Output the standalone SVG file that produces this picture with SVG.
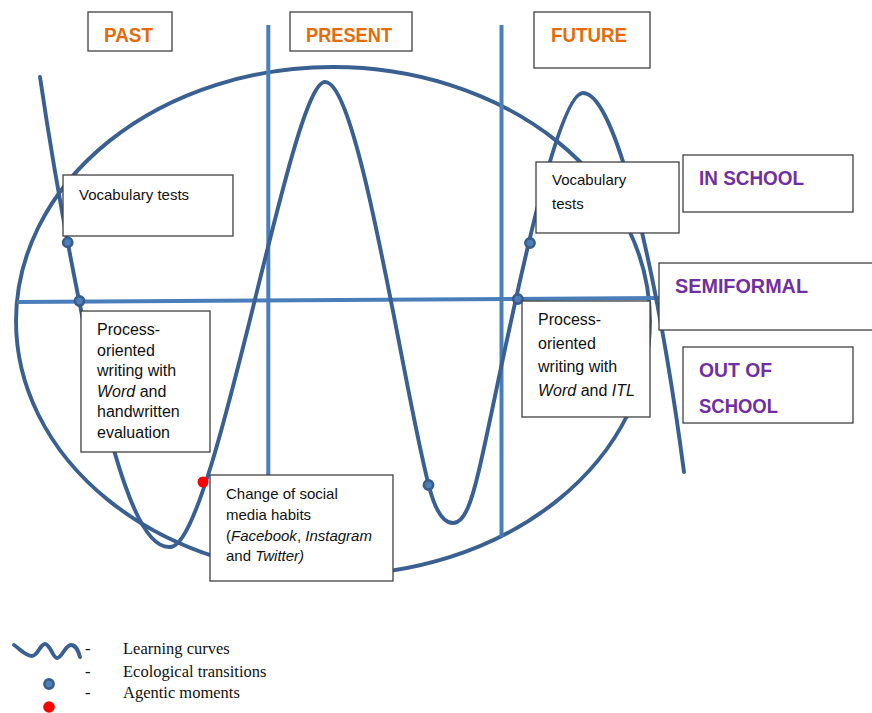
<svg xmlns="http://www.w3.org/2000/svg" width="872" height="713" viewBox="0 0 872 713">
<style>
.curve{fill:none;stroke:#3a6091;stroke-width:3.9;stroke-linecap:round}
.axis{fill:none;stroke:#4a7ebb;stroke-width:4}
.box{fill:#fff;stroke:#404040;stroke-width:1.3}
.t{font-family:"Liberation Sans",Arial,sans-serif;font-size:15px;fill:#111}
.t16{font-size:16px}
.hdr{font-family:"Liberation Sans",Arial,sans-serif;font-weight:bold;font-size:21px;fill:#e36c09}
.ctx{font-family:"Liberation Sans",Arial,sans-serif;font-weight:bold;font-size:20px;fill:#7030a0}
.lg{font-family:"Liberation Serif","Times New Roman",serif;font-size:16.5px;fill:#111}
.dot{fill:#4f7fb8;stroke:#385d8a;stroke-width:2.6}
.agent{fill:#ff0000}
</style>
<g id="ellipse"><ellipse class="curve" cx="333" cy="321" rx="317" ry="254"/></g>
<g id="connectors">
<line class="axis" x1="268.3" y1="25" x2="268.3" y2="476"/>
<line class="axis" x1="501.5" y1="25" x2="501.5" y2="537"/>
<line class="axis" x1="17" y1="302" x2="660" y2="298" stroke-width="3.6"/>
<path class="curve" d="M40,77 C58,200 95,400 125,485 C140,528 155,548 170,547 C215,547 290,82 325,82 C360,82 405,400 430,490 C437,515 445,523 453,523 C465,523 472,500 479,470 C496,400 552,93 583,93 C618,93 660,290 684,472"/>
</g>
<g id="dots">
<circle class="dot" cx="67.7" cy="242.4" r="4.6"/>
<circle class="dot" cx="79.5" cy="301" r="4.6"/>
<circle class="dot" cx="428.5" cy="485" r="4.6"/>
<circle class="dot" cx="530" cy="243" r="4.6"/>
<circle class="dot" cx="517.8" cy="299" r="4.6"/>
<circle class="agent" cx="203" cy="482" r="5.5"/>
</g>
<g id="past"><rect class="box" x="88" y="12" width="84" height="39"/><text class="hdr" x="104" y="42" textLength="49" lengthAdjust="spacingAndGlyphs">PAST</text></g>
<g id="present"><rect class="box" x="290" y="12" width="122" height="39"/><text class="hdr" x="306" y="42" textLength="86" lengthAdjust="spacingAndGlyphs">PRESENT</text></g>
<g id="future"><rect class="box" x="534" y="12" width="116" height="56"/><text class="hdr" x="551" y="42" textLength="76" lengthAdjust="spacingAndGlyphs">FUTURE</text></g>
<g id="vocab-past"><rect class="box" x="63" y="175" width="170" height="61"/><text class="t" x="79" y="200">Vocabulary tests</text></g>
<g id="process-past"><rect class="box" x="81" y="311" width="129" height="141"/>
<text class="t t16" x="97" y="335">Process-</text>
<text class="t t16" x="97" y="355.5">oriented</text>
<text class="t t16" x="97" y="376">writing with</text>
<text class="t t16" x="97" y="396.5"><tspan font-style="italic">Word</tspan> and</text>
<text class="t t16" x="97" y="417">handwritten</text>
<text class="t t16" x="97" y="437.5">evaluation</text>
</g>
<g id="social-media"><rect class="box" x="210" y="475" width="183" height="106"/>
<text class="t" x="226" y="499">Change of social</text>
<text class="t" x="226" y="520">media habits</text>
<text class="t" x="226" y="540.5">(<tspan font-style="italic">Facebook</tspan>, <tspan font-style="italic">Instagram</tspan></text>
<text class="t" x="226" y="561">and <tspan font-style="italic">Twitter)</tspan></text>
</g>
<g id="vocab-future"><rect class="box" x="536" y="162" width="143" height="71"/>
<text class="t" x="552" y="185">Vocabulary</text>
<text class="t" x="552" y="209">tests</text>
</g>
<g id="process-future"><rect class="box" x="522" y="301" width="128" height="116"/>
<text class="t t16" x="538" y="325">Process-</text>
<text class="t t16" x="538" y="348.5">oriented</text>
<text class="t t16" x="538" y="372">writing with</text>
<text class="t t16" x="538" y="395.5"><tspan font-style="italic">Word</tspan> and <tspan font-style="italic">ITL</tspan></text>
</g>
<g id="in-school"><rect class="box" x="683" y="155" width="170" height="57"/><text class="ctx" x="699" y="185" textLength="105" lengthAdjust="spacingAndGlyphs">IN SCHOOL</text></g>
<g id="semiformal"><rect class="box" x="659" y="263" width="220" height="67"/><text class="ctx" x="675" y="293" textLength="133" lengthAdjust="spacingAndGlyphs">SEMIFORMAL</text></g>
<g id="out-of-school"><rect class="box" x="683" y="347" width="170" height="76"/>
<text class="ctx" x="699" y="377" textLength="73" lengthAdjust="spacingAndGlyphs">OUT OF</text>
<text class="ctx" x="699" y="413" textLength="79" lengthAdjust="spacingAndGlyphs">SCHOOL</text>
</g>
<g id="legend">
<path class="curve" d="M14,645 C20,649 26,656 32,656 C38,656 40,644 45,644 C50,644 53,658 57,658 C62,658 65,645 71,645 C76,645 78,650 80,657"/>
<circle class="dot" cx="49" cy="684" r="4.6"/>
<circle class="agent" cx="49" cy="707" r="5.8"/>
<text class="lg" x="85" y="654">-</text>
<text class="lg" x="85" y="677">-</text>
<text class="lg" x="85" y="698">-</text>
<text class="lg" x="123" y="654">Learning curves</text>
<text class="lg" x="123" y="676.5">Ecological transitions</text>
<text class="lg" x="123" y="698">Agentic moments</text>
</g>
</svg>
